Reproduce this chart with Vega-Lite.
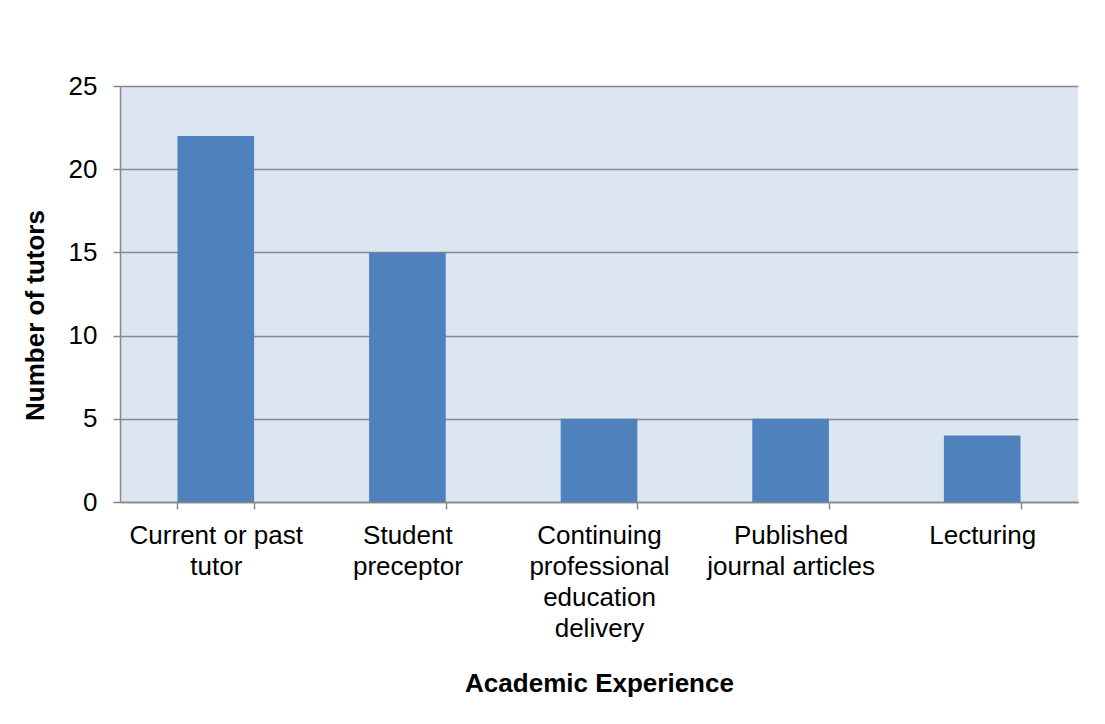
{
  "$schema": "https://vega.github.io/schema/vega-lite/v6.json",
  "autosize": "none",
  "width": 958,
  "height": 416,
  "padding": {"left": 120, "top": 86, "right": 27, "bottom": 222},
  "background": "white",
  "config": {
    "font": "Liberation Sans",
    "view": {"fill": "#DCE6F2", "stroke": null}
  },
  "data": {
    "values": [
      {"experience": "Current or past tutor", "tutors": 22},
      {"experience": "Student preceptor", "tutors": 15},
      {"experience": "Continuing professional education delivery", "tutors": 5},
      {"experience": "Published journal articles", "tutors": 5},
      {"experience": "Lecturing", "tutors": 4}
    ]
  },
  "mark": {"type": "bar", "color": "#4F81BD"},
  "encoding": {
    "x": {
      "field": "experience",
      "type": "nominal",
      "sort": null,
      "scale": {"paddingInner": 0.6, "paddingOuter": 0.3},
      "axis": {
        "title": "Academic Experience",
        "titleFont": "Liberation Sans",
        "titleFontSize": 26,
        "titleFontWeight": "bold",
        "titleColor": "#000000",
        "titleBaseline": "middle",
        "titleY": 181,
        "labelAngle": 0,
        "labelFont": "Liberation Sans",
        "labelFontSize": 26,
        "labelColor": "#000000",
        "labelLineHeight": 31,
        "labelPadding": 13,
        "labelBaseline": "top",
        "labelLimit": 0,
        "labelExpr": "datum.value == 'Current or past tutor' ? ['Current or past', 'tutor'] : datum.value == 'Student preceptor' ? ['Student', 'preceptor'] : datum.value == 'Continuing professional education delivery' ? ['Continuing', 'professional', 'education', 'delivery'] : datum.value == 'Published journal articles' ? ['Published', 'journal articles'] : datum.value",
        "tickBand": "extent",
        "tickSize": 7,
        "tickColor": "#888888",
        "tickWidth": 1.5,
        "domainColor": "#888888",
        "domainWidth": 1.5,
        "grid": false
      }
    },
    "y": {
      "field": "tutors",
      "type": "quantitative",
      "scale": {"domain": [0, 25], "nice": false},
      "axis": {
        "title": "Number of tutors",
        "titleFont": "Liberation Sans",
        "titleFontSize": 26,
        "titleFontWeight": "bold",
        "titleColor": "#000000",
        "titleAngle": -90,
        "titleBaseline": "middle",
        "titleX": -85,
        "titleY": 229,
        "values": [0, 5, 10, 15, 20, 25],
        "labelFont": "Liberation Sans",
        "labelFontSize": 26,
        "labelColor": "#000000",
        "labelPadding": 16,
        "tickSize": 7,
        "tickColor": "#888888",
        "tickWidth": 1.5,
        "domainColor": "#888888",
        "domainWidth": 1.5,
        "grid": true,
        "gridColor": "#888888",
        "gridWidth": 1.5
      }
    }
  }
}
